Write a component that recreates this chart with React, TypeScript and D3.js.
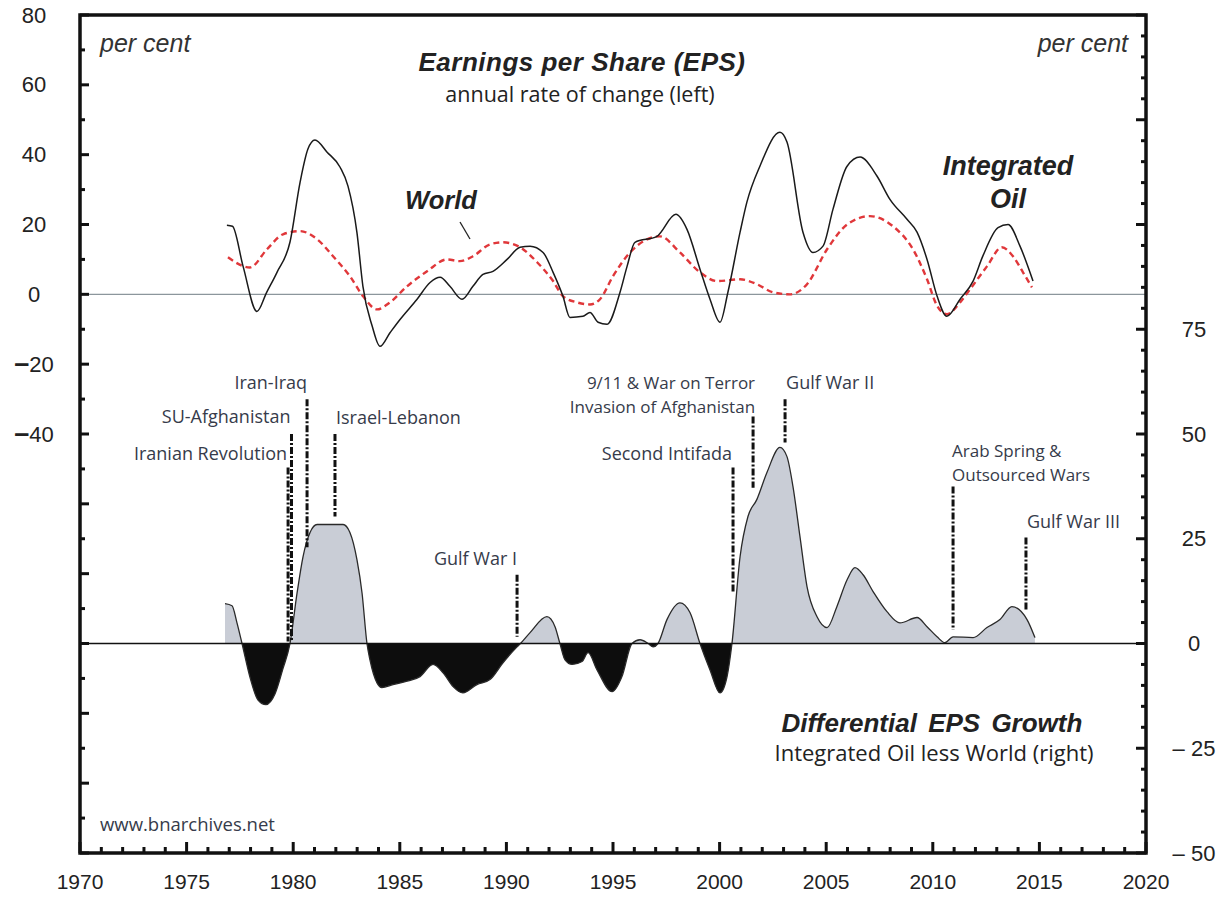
import React from "react";
import * as d3 from "d3";

// ---------- DATA ----------
const oilYears = [1976.89, 1977.15, 1977.65, 1978.3, 1978.75, 1979.24, 1979.85, 1980.32, 1980.69, 1981.02, 1981.59, 1982.2, 1982.57, 1982.99, 1983.27, 1983.7, 1984.07, 1984.54, 1985.01, 1985.81, 1986.42, 1986.89, 1987.35, 1987.92, 1988.43, 1988.9, 1989.37, 1990.03, 1990.64, 1991.11, 1991.72, 1992.19, 1992.65, 1992.98, 1993.59, 1993.92, 1994.3, 1994.72, 1995.33, 1995.66, 1996.03, 1997.06, 1997.95, 1998.47, 1999.08, 1999.55, 2000.02, 2000.39, 2000.96, 2001.28, 2001.89, 2002.83, 2003.16, 2003.91, 2004.38, 2004.85, 2005.32, 2005.98, 2006.59, 2007.38, 2007.99, 2008.79, 2009.26, 2009.73, 2010.2, 2010.66, 2011.28, 2011.89, 2012.35, 2013.06, 2013.53, 2014.09, 2014.7];
const oilValues = [19.8, 19.5, 8, -4.9, 0.5, 6.3, 15, 32, 41.6, 44.2, 40.7, 36.4, 31, 17.7, 2.3, -9, -14.9, -11, -7.2, -1.4, 3.4, 4.9, 2.3, -1.4, 2.3, 5.7, 6.6, 10, 13.5, 13.8, 12, 6.3, -0.5, -6.6, -6.3, -5.2, -8, -8.6, 0.6, 8, 14.9, 16.6, 22.9, 18.6, 7.2, -1.4, -8, 0.6, 17.8, 26.4, 36.7, 46.4, 43.6, 17.8, 12, 13.8, 24.4, 36.7, 39.3, 33.9, 27.2, 21.5, 17.8, 10, -0.5, -6.3, -1.4, 3.8, 11, 19.1, 20, 13.8, 3.8];

const worldYears = [1976.94, 1977.97, 1978.77, 1979.52, 1980.32, 1981.12, 1981.87, 1982.66, 1983.27, 1983.93, 1984.54, 1985.34, 1986.28, 1987.21, 1987.82, 1988.43, 1989.23, 1989.84, 1990.64, 1991.44, 1992.19, 1992.65, 1993.31, 1993.92, 1994.39, 1995.0, 1995.8, 1997.2, 1998.14, 1999.08, 1999.88, 2000.96, 2001.75, 2002.5, 2003.3, 2004.1, 2005.04, 2005.98, 2007.05, 2008.13, 2009.07, 2009.73, 2010.2, 2010.66, 2011.28, 2011.74, 2012.54, 2013.24, 2013.76, 2014.23, 2014.65];
const worldValues = [10.6, 7.7, 12.9, 17.2, 18.1, 15.8, 10.9, 5.2, -0.5, -4.3, -2.3, 2.3, 6.6, 10, 9.5, 10.9, 14.3, 14.9, 13.5, 9.2, 3.8, -0.5, -2.3, -2.9, -1.4, 5.2, 12, 16.6, 12, 6.3, 3.8, 4.3, 2.9, 0.6, 0, 2.9, 12.9, 20, 22.4, 19.5, 12.9, 4.3, -3.3, -5.7, -2.3, 1.4, 8, 13.5, 10.9, 6.3, 2];

const diffYears = [1976.8, 1977.13, 1977.36, 1977.6, 1977.97, 1978.35, 1978.72, 1979.15, 1979.52, 1979.85, 1980.18, 1980.46, 1980.79, 1981.12, 1982.34, 1982.66, 1982.99, 1983.23, 1983.46, 1983.6, 1983.93, 1984.16, 1984.68, 1985.34, 1985.95, 1986.56, 1987.03, 1987.5, 1987.96, 1988.62, 1989.23, 1989.84, 1990.5, 1990.66, 1991.11, 1991.9, 1992.28, 1992.51, 1992.75, 1993.08, 1993.55, 1993.83, 1994.25, 1994.96, 1995.42, 1995.89, 1996.27, 1996.65, 1996.88, 1997.11, 1997.53, 1998.14, 1998.61, 1999.08, 1999.55, 2000.02, 2000.35, 2000.58, 2000.96, 2001.33, 2001.75, 2002.22, 2002.83, 2003.16, 2003.44, 2003.77, 2004.1, 2004.57, 2005.04, 2005.5, 2005.98, 2006.35, 2006.73, 2007.2, 2007.85, 2008.46, 2009.26, 2009.73, 2010.2, 2010.57, 2010.95, 2011.89, 2012.54, 2013.15, 2013.71, 2014.42, 2014.79];
const diffValues = [9.5, 9.0, 5, 0, -8, -13.5, -14.6, -12, -6, 0, 12, 20.7, 26.5, 28.4, 28.4, 26.5, 20, 12, 0, -3.9, -9.4, -10.5, -9.8, -9, -7.9, -5, -7, -10.3, -11.8, -9.8, -8.6, -4.6, -0.8, 0, 2.6, 6.4, 4, 0, -3.9, -5, -4.3, -2.2, -6.3, -11.5, -7.9, 0, 0.9, 0, -0.8, 0, 5.7, 9.7, 7.4, 0, -6.3, -11.8, -7.9, 0, 20.7, 30.3, 34.4, 40.8, 46.8, 44.6, 37.5, 25.5, 13.6, 6.4, 3.8, 8.8, 15.2, 18.1, 16.4, 12.4, 7.6, 4.9, 6.2, 4, 1.6, 0.2, 1.6, 1.4, 3.8, 5.7, 8.8, 5.7, 1.4];

const eventNames = ["Iranian Revolution", "SU-Afghanistan", "Iran-Iraq", "Israel-Lebanon", "Gulf War I", "Second Intifada", "9/11 & War on Terror|Invasion of Afghanistan", "Gulf War II", "Arab Spring &|Outsourced Wars", "Gulf War III"];
const eventYears = [1979.76, 1979.92, 1980.65, 1981.96, 1990.5, 2000.63, 2001.57, 2003.07, 2010.95, 2014.37];
const eventTop = [42, 50, 58.3, 50, 16.4, 42, 54.2, 58.3, 37.5, 25.3];
const eventBottom = [0.5, 0.5, 23, 30.3, 1.6, 12.4, 37.2, 48, 3.3, 8.1];

const leftTickLabels = ["80", "60", "40", "20", "0", "−20", "−40"];
const leftTickValues = [80, 60, 40, 20, 0, -20, -40];
const rightTickLabels = ["75", "50", "25", "0", "−25", "−50"];
const rightTickValues = [75, 50, 25, 0, -25, -50];
const yearTicks = [1970, 1975, 1980, 1985, 1990, 1995, 2000, 2005, 2010, 2015, 2020];

// ---------- LAYOUT ----------
const W = 1224, H = 902;
const L = 80, R = 1146, T = 15, B = 853;
const evAnchor = ["end", "end", "end", "start", "end", "end", "end", "start", "start", "start"];
const evDx = [-1, -1, 0, 1, 0, -1, 2, 1, -1, 1];
const evDy = [-15, -18, -17, -17, -17, -15, -33.5, -17, -35.5, -16];

const HELV = "'Liberation Sans', Arial, Helvetica, sans-serif";
const HUM = "'Open Sans', 'Noto Sans', sans-serif";
const LABEL_COLOR = "#363b4a";

export default function App() {
  const x = d3.scaleLinear().domain([1970, 2020]).range([L, R]);
  const yL = d3.scaleLinear().domain([-160, 80]).range([B, T]);
  const yR = d3.scaleLinear().domain([-50, 150]).range([B, T]);

  const lineOil = d3.line<number>().x((_, i) => x(oilYears[i])).y((d) => yL(d)).curve(d3.curveMonotoneX);
  const lineWorld = d3.line<number>().x((_, i) => x(worldYears[i])).y((d) => yL(d)).curve(d3.curveMonotoneX);
  const areaDiff = d3.area<number>().x((_, i) => x(diffYears[i])).y0(yR(0)).y1((d) => yR(d)).curve(d3.curveMonotoneX);
  const lineDiff = d3.line<number>().x((_, i) => x(diffYears[i])).y((d) => yR(d)).curve(d3.curveMonotoneX);

  const leftMinor = d3.range(-160, 81, 10);
  const rightMinor = d3.range(-50, 151, 5);
  const yearMinor = d3.range(1970, 2021, 1);

  return (
    <svg width={W} height={H} style={{ position: "absolute", left: 0, top: 0, background: "#fff" }}>
      <rect x={0} y={0} width={W} height={H} fill="#fff" />
      <defs>
        <clipPath id="above"><rect x={L} y={T} width={R - L} height={yR(0) - T} /></clipPath>
        <clipPath id="below"><rect x={L} y={yR(0)} width={R - L} height={B - yR(0)} /></clipPath>
      </defs>

      <line x1={L} x2={R} y1={yL(0)} y2={yL(0)} stroke="#8c969c" strokeWidth={1.3} />

      <path d={areaDiff(diffValues) || ""} fill="#c9cdd6" clipPath="url(#above)" />
      <path d={areaDiff(diffValues) || ""} fill="#0d0d0d" clipPath="url(#below)" />
      <path d={lineDiff(diffValues) || ""} fill="none" stroke="#2a2a2a" strokeWidth={1.3} />
      <line x1={L} x2={R} y1={yR(0)} y2={yR(0)} stroke="#111" strokeWidth={1.5} />

      <path d={lineWorld(worldValues) || ""} fill="none" stroke="#e0373a" strokeWidth={2.4} strokeDasharray="6 4" />
      <path d={lineOil(oilValues) || ""} fill="none" stroke="#1a1a1a" strokeWidth={1.5} />

      {eventNames.map((name, i) => {
        const xx = x(eventYears[i]);
        const yt = yR(eventTop[i]);
        const yb = yR(eventBottom[i]);
        const lines = name.split("|");
        const multi = lines.length > 1;
        return (
          <g key={name}>
            <line x1={xx} x2={xx} y1={yt} y2={yb} stroke="#111" strokeWidth={3} strokeDasharray="7 2 2 2" />
            {lines.map((ln, j) => (
              <text key={j} x={xx + evDx[i]} y={yt + evDy[i] + j * 24} textAnchor={evAnchor[i]} dominantBaseline="central"
                fontFamily={HUM} fontSize={multi ? 17 : 18} fill={LABEL_COLOR}>{ln}</text>
            ))}
          </g>
        );
      })}

      <line x1={460} x2={470} y1={222} y2={239} stroke="#222" strokeWidth={1.3} />

      <rect x={L} y={T} width={R - L} height={B - T} fill="none" stroke="#111" strokeWidth={3.5} />

      {leftMinor.map((v) => (
        <line key={"l" + v} x1={L} x2={L + (v % 20 === 0 ? 9 : 5)} y1={yL(v)} y2={yL(v)} stroke="#111" strokeWidth={3} />
      ))}
      {rightMinor.map((v) => (
        <line key={"r" + v} x1={R} x2={R - (v % 25 === 0 ? 10 : 5)} y1={yR(v)} y2={yR(v)} stroke="#111" strokeWidth={3} />
      ))}
      {yearMinor.map((yv) => (
        <line key={"b" + yv} x1={x(yv)} x2={x(yv)} y1={B} y2={B - (yv % 5 === 0 ? 11 : 6)} stroke="#111" strokeWidth={3} />
      ))}

      {leftTickValues.map((v, i) => (
        <text key={"lt" + v} x={34} y={yL(v)} textAnchor="middle" dominantBaseline="central" fontFamily={HELV} fontSize={22} fill="#222">
          {v < 0 ? (<><tspan fontWeight="bold" fontSize={27} dy={-1}>–</tspan><tspan dy={1}>{leftTickLabels[i].slice(1)}</tspan></>) : leftTickLabels[i]}
        </text>
      ))}
      {rightTickValues.map((v, i) => (
        <text key={"rt" + v} x={1194} y={yR(v)} textAnchor="middle" dominantBaseline="central" fontFamily={HELV} fontSize={22} fill="#222">
          {v < 0 ? "– " + rightTickLabels[i].slice(1) : rightTickLabels[i]}
        </text>
      ))}
      {yearTicks.map((yv) => (
        <text key={"yt" + yv} x={x(yv)} y={881} textAnchor="middle" dominantBaseline="central" fontFamily={HELV} fontSize={21} fill="#222">{yv}</text>
      ))}

      <text x={100} y={43} fontFamily={HELV} fontStyle="italic" fontSize={25} fill="#333" dominantBaseline="central">per cent</text>
      <text x={1128} y={43} textAnchor="end" fontFamily={HELV} fontStyle="italic" fontSize={25} fill="#333" dominantBaseline="central">per cent</text>
      <text x={582} y={62} textAnchor="middle" fontFamily={HELV} fontStyle="italic" fontWeight="bold" fontSize={26} letterSpacing={0.5} fill="#222" dominantBaseline="central">Earnings per Share (EPS)</text>
      <text x={580} y={93} textAnchor="middle" fontFamily={HUM} fontSize={21.5} fill="#222" dominantBaseline="central">annual rate of change (left)</text>
      <text x={441} y={200} textAnchor="middle" fontFamily={HELV} fontStyle="italic" fontWeight="bold" fontSize={25.5} fill="#222" dominantBaseline="central">World</text>
      <text x={1008} y={166} textAnchor="middle" fontFamily={HELV} fontStyle="italic" fontWeight="bold" fontSize={27} fill="#222" dominantBaseline="central">Integrated</text>
      <text x={1008} y={199} textAnchor="middle" fontFamily={HELV} fontStyle="italic" fontWeight="bold" fontSize={27} fill="#222" dominantBaseline="central">Oil</text>
      <text x={932} y={723} textAnchor="middle" fontFamily={HELV} fontStyle="italic" fontWeight="bold" fontSize={26} fill="#222" dominantBaseline="central" wordSpacing={4}>Differential EPS Growth</text>
      <text x={934} y={752} textAnchor="middle" fontFamily={HUM} fontSize={22} fill="#222" dominantBaseline="central">Integrated Oil less World (right)</text>
      <text x={100} y={823} fontFamily={HUM} fontSize={18.5} fill={LABEL_COLOR} dominantBaseline="central">www.bnarchives.net</text>
    </svg>
  );
}
